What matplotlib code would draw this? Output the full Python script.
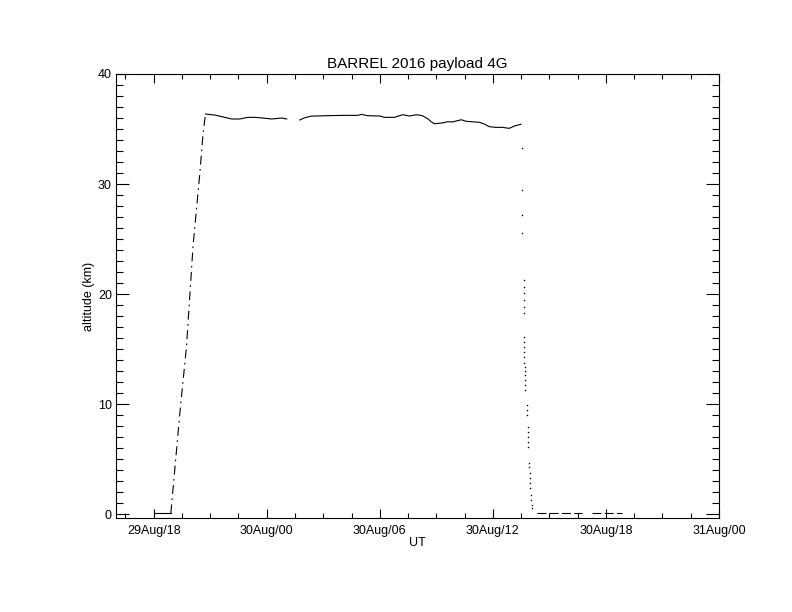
import matplotlib
matplotlib.use("Agg")
import matplotlib.pyplot as plt
from matplotlib.ticker import MultipleLocator, FixedLocator, FixedFormatter

plt.rcParams['font.family'] = ['Liberation Sans', 'DejaVu Sans']

# time in hours since 29Aug 00:00 UT, altitude in km
pre_t = [18.01, 18.91]
pre_alt = [0.07, 0.07]

asc_t = [18.91, 19.39, 19.74, 20.09, 20.45, 20.62, 20.75]
asc_alt = [0.07, 9.2, 15.2, 24.4, 31.0, 34.6, 36.36]

float1_t = [20.75, 21.24, 21.77, 22.14, 22.57, 22.99, 23.36, 23.79, 24.26, 24.79, 25.06]
float1_alt = [36.36, 36.27, 36.06, 35.91, 35.91, 36.06, 36.06, 36.0, 35.91, 36.0, 35.91]

float2_t = [25.75, 26.01, 26.38, 26.65, 27.18, 28.03, 28.82, 29.03, 29.35, 29.99, 30.25,
            30.78, 31.21, 31.58, 31.95, 32.26, 32.53, 32.73, 32.90, 33.32, 33.59, 33.85,
            34.32, 34.58, 35.28, 35.55, 35.81, 36.15, 36.50, 36.87, 37.14, 37.49]
float2_alt = [35.82, 36.02, 36.18, 36.18, 36.21, 36.24, 36.24, 36.33, 36.21, 36.18, 36.06,
              36.06, 36.30, 36.18, 36.30, 36.21, 35.95, 35.66, 35.48, 35.55, 35.66, 35.64,
              35.84, 35.70, 35.61, 35.45, 35.21, 35.15, 35.15, 35.06, 35.27, 35.43]

desc_t = [37.57, 37.57, 37.57, 37.57,
          37.63, 37.63, 37.63, 37.63, 37.63, 37.63,
          37.66, 37.66, 37.66, 37.66, 37.66, 37.66,
          37.70, 37.70, 37.70, 37.70, 37.70, 37.70,
          37.79, 37.79, 37.79,
          37.84, 37.84, 37.84, 37.84, 37.84,
          37.93, 37.93, 37.96, 37.96, 37.97, 37.97,
          38.02, 38.02, 38.10, 38.10]
desc_alt = [33.25, 29.45, 27.18, 25.52,
            21.27, 20.66, 20.06, 19.45, 18.85, 18.24,
            16.12, 15.66, 15.21, 14.75, 14.30, 13.70,
            13.39, 13.0, 12.64, 12.18, 11.73, 11.27,
            9.91, 9.45, 9.0,
            7.94, 7.45, 7.0, 6.55, 6.12,
            4.64, 4.27, 3.73, 3.27, 2.82, 2.36,
            1.73, 1.27, 0.82, 0.55]

post1_t = [38.36, 40.74]
post1_alt = [0.12, 0.12]
post2_t = [41.27, 42.86]
post2_alt = [0.12, 0.12]

tick_hours = [18, 24, 30, 36, 42, 48]
tick_labels = ["29Aug/18", "30Aug/00", "30Aug/06", "30Aug/12", "30Aug/18", "31Aug/00"]

fig = plt.figure(figsize=(7.92, 6.12), dpi=100)
ax = fig.add_axes([116 / 792, 1 - 518 / 612, 603 / 792, 444 / 612])

lw = 0.8
ax.plot(pre_t, pre_alt, color='black', lw=lw)
ax.plot(asc_t, asc_alt, color='black', lw=lw, linestyle=(0, (8, 4, 1.5, 4)))
ax.plot(float1_t, float1_alt, color='black', lw=lw)
ax.plot(float2_t, float2_alt, color='black', lw=lw)
ax.plot(desc_t, desc_alt, color='black', ls='none', marker='s', ms=1.0, mew=0)
ax.plot(post1_t, post1_alt, color='black', lw=lw, linestyle=(0, (8, 3)))
ax.plot(post2_t, post2_alt, color='black', lw=lw, linestyle=(0, (8, 3)))

ax.set_xlim(16, 48)
ax.set_ylim(-0.36, 40)

ax.xaxis.set_major_locator(FixedLocator(tick_hours))
ax.xaxis.set_major_formatter(FixedFormatter(tick_labels))
ax.xaxis.set_minor_locator(MultipleLocator(1.5))
ax.yaxis.set_major_locator(MultipleLocator(10))
ax.yaxis.set_minor_locator(MultipleLocator(1))

ax.tick_params(axis='x', which='major', direction='in', length=6.5, width=0.8,
               top=True, labelsize=9, pad=5)
ax.tick_params(axis='x', which='minor', direction='in', length=3.6, width=0.8, top=True)
ax.tick_params(axis='y', which='major', direction='in', length=9.4, width=0.8,
               right=True, labelsize=9, pad=3)
ax.tick_params(axis='y', which='minor', direction='in', length=5, width=0.8, right=True)
for s in ax.spines.values():
    s.set_linewidth(0.8)

ax.set_title("BARREL 2016 payload 4G", fontsize=11, pad=4)
ax.set_xlabel("UT", fontsize=9, labelpad=0)
ax.set_ylabel("altitude (km)", fontsize=9, labelpad=2)

plt.savefig('out.png', dpi=100)
